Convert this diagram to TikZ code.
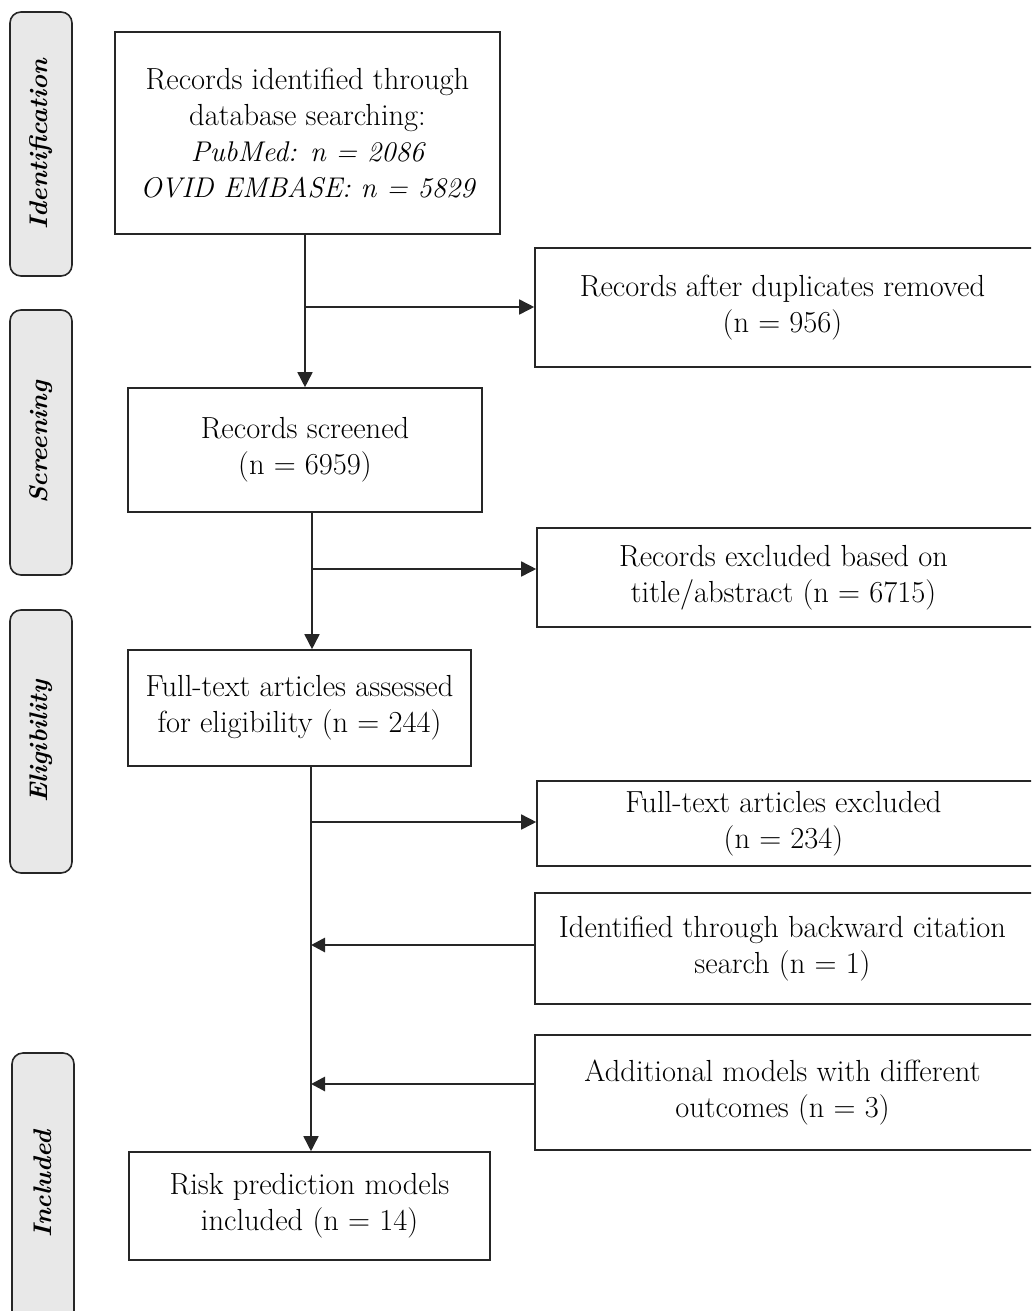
\documentclass[tikz,border=0pt]{standalone}
\usetikzlibrary{arrows.meta}
\definecolor{sidegray}{RGB}{232,232,232}
\begin{document}
\begin{tikzpicture}[x=1pt,y=-1pt,
  txt/.style={align=center,inner sep=0pt,font=\fontsize{30.5}{36}\selectfont},
  box/.style={txt,draw=black!85,line width=1.6pt},
  side/.style={draw=black!85,line width=1.6pt,fill=sidegray,rounded corners=11pt,
    inner sep=0pt,minimum height=62pt,rotate=90,
    font=\fontsize{25.5}{28}\selectfont\bfseries\itshape},
  sidetxt/.style={inner sep=0pt,rotate=90,font=\fontsize{25.5}{28}\selectfont\bfseries\itshape},
  conn/.style={line width=1.6pt,draw=black!85},
  arr/.style={conn,-{Triangle[length=15pt,width=15pt]}},
  arrb/.style={line width=2.8pt,draw=black!85,-{Triangle[length=14pt,width=14pt]}}]
\useasboundingbox (0,0) rectangle (1031,1311);
\clip (0,0) rectangle (1031,1311);
% side labels
\node[side,minimum width=264pt] (sid) at (41,144) {Identification};
\node[side,minimum width=265pt] (ssc) at (41,442.5) {Screening};
\node[side,minimum width=263pt] (sel) at (41,741.5) {Eligibility};
\node[side,minimum width=300pt] (sin) at (43,1203) {};
\node[sidetxt] (sintxt) at (43,1184) {Included};
% main boxes
\node[box,minimum width=385pt,minimum height=202pt] (b1) at (307.5,133)
  {Records identified through\\database searching:\\{\fontsize{28.5}{36}\selectfont\itshape PubMed: n = 2086}\\{\fontsize{28.5}{36}\selectfont\itshape OVID EMBASE: n = 5829}};
\node[box,minimum width=505pt,minimum height=119pt] (dup) at (787.5,307.5) {};
\node[txt] (duptxt) at (782.5,307.5) {Records after duplicates removed\\(n = 956)};
\node[box,minimum width=354pt,minimum height=124pt] (scr) at (305,450) {Records screened\\(n = 6959)};
\node[box,minimum width=503pt,minimum height=99pt] (exc) at (788.5,577.5) {};
\node[txt] (exctxt) at (783.5,577.5) {Records excluded based on\\title/abstract (n = 6715)};
\node[box,minimum width=343pt,minimum height=116pt] (elig) at (299.5,708) {Full-text articles assessed\\for eligibility (n = 244)};
\node[box,minimum width=503pt,minimum height=85pt] (ftx) at (788.5,823.5) {};
\node[txt] (ftxtxt) at (783.5,823.5) {Full-text articles excluded\\(n = 234)};
\node[box,minimum width=505pt,minimum height=111pt] (bwd) at (787.5,948.5) {};
\node[txt] (bwdtxt) at (782.5,948.5) {Identified through backward citation\\search (n = 1)};
\node[box,minimum width=505pt,minimum height=115pt] (add) at (787.5,1092.5) {};
\node[txt] (addtxt) at (782.5,1092.5) {Additional models with different\\outcomes (n = 3)};
\node[box,minimum width=361pt,minimum height=108pt] (inc) at (309.5,1206) {Risk prediction models\\included (n = 14)};
% junction coordinates
\coordinate (j1) at (305,307);
\coordinate (j2) at (312,569);
\coordinate (j3) at (311,822);
\coordinate (j4) at (311,945);
\coordinate (j5) at (311,1084);
% connectors
\draw[arr] (b1.south -| scr.north) -- (scr.north);
\draw[arr] (j1) -- (j1 -| dup.west);
\draw[arr] (scr.south -| j2) -- (elig.north -| j2);
\draw[arr] (j2) -- (j2 -| exc.west);
\draw[arr] (elig.south -| j3) -- (inc.north -| j3);
\draw[arr] (j3) -- (j3 -| ftx.west);
\draw[arrb] (j4 -| bwd.west) -- (j4);
\draw[arrb] (j5 -| add.west) -- (j5);
\end{tikzpicture}
\end{document}
